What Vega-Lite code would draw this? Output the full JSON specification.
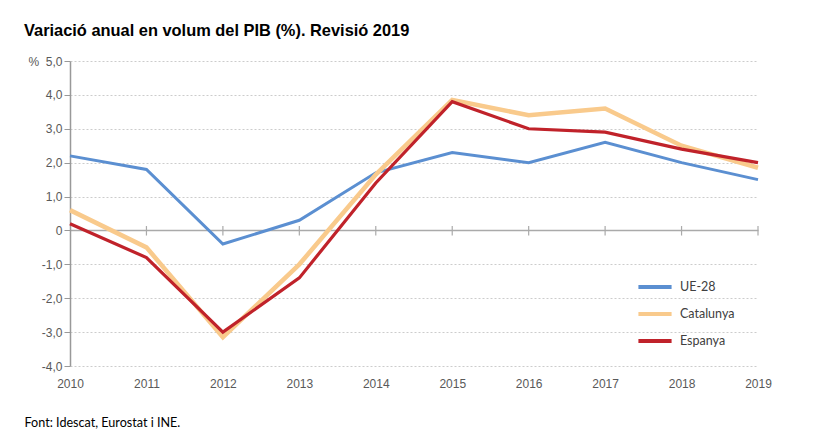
{
  "$schema": "https://vega.github.io/schema/vega-lite/v6.json",
  "autosize": {"type": "none"},
  "width": 688,
  "height": 305,
  "padding": {"left": 70, "top": 61, "right": 68, "bottom": 64},
  "background": "white",
  "config": {
    "view": {"stroke": null},
    "axisY": {
      "labelOverlap": false,
      "labelFont": "Liberation Sans", "labelFontSize": 12, "labelColor": "#595959",
      "labelPadding": 2, "tickSize": 6, "tickColor": "#999999",
      "domainColor": "#999999", "domainWidth": 1.5,
      "grid": true, "gridWidth": 1,
      "titleAngle": 0, "titleX": -42, "titleY": 0,
      "titleAlign": "left", "titleBaseline": "middle",
      "titleFont": "Liberation Sans", "titleFontSize": 12, "titleFontWeight": "normal",
      "titleColor": "#595959"
    },
    "axisX": {
      "labelAngle": 0, "domain": false, "ticks": false, "grid": false,
      "labelPadding": 12, "labelFont": "Liberation Sans", "labelFontSize": 12,
      "labelColor": "#595959",
      "titleX": -46, "titleY": 56, "titleAlign": "left", "titleBaseline": "middle",
      "titleFont": "Lato", "titleFontSize": 12.6, "titleFontWeight": "normal", "titleColor": "#000000"
    }
  },
  "title": {
    "text": "Variació anual en volum del PIB (%). Revisió 2019",
    "anchor": "start",
    "frame": "group",
    "dx": -46,
    "offset": 16,
    "font": "Liberation Sans",
    "fontSize": 16.4,
    "fontWeight": "bold",
    "color": "#000000"
  },
  "datasets": {
    "pib": [
      {"any": "2010", "serie": "UE-28", "valor": 2.2},
      {"any": "2011", "serie": "UE-28", "valor": 1.8},
      {"any": "2012", "serie": "UE-28", "valor": -0.4},
      {"any": "2013", "serie": "UE-28", "valor": 0.3},
      {"any": "2014", "serie": "UE-28", "valor": 1.7},
      {"any": "2015", "serie": "UE-28", "valor": 2.3},
      {"any": "2016", "serie": "UE-28", "valor": 2.0},
      {"any": "2017", "serie": "UE-28", "valor": 2.6},
      {"any": "2018", "serie": "UE-28", "valor": 2.0},
      {"any": "2019", "serie": "UE-28", "valor": 1.5},
      {"any": "2010", "serie": "Catalunya", "valor": 0.6},
      {"any": "2011", "serie": "Catalunya", "valor": -0.5},
      {"any": "2012", "serie": "Catalunya", "valor": -3.15},
      {"any": "2013", "serie": "Catalunya", "valor": -1.0},
      {"any": "2014", "serie": "Catalunya", "valor": 1.65},
      {"any": "2015", "serie": "Catalunya", "valor": 3.85},
      {"any": "2016", "serie": "Catalunya", "valor": 3.4},
      {"any": "2017", "serie": "Catalunya", "valor": 3.6},
      {"any": "2018", "serie": "Catalunya", "valor": 2.5},
      {"any": "2019", "serie": "Catalunya", "valor": 1.85},
      {"any": "2010", "serie": "Espanya", "valor": 0.2},
      {"any": "2011", "serie": "Espanya", "valor": -0.8},
      {"any": "2012", "serie": "Espanya", "valor": -3.0},
      {"any": "2013", "serie": "Espanya", "valor": -1.4},
      {"any": "2014", "serie": "Espanya", "valor": 1.4},
      {"any": "2015", "serie": "Espanya", "valor": 3.8},
      {"any": "2016", "serie": "Espanya", "valor": 3.0},
      {"any": "2017", "serie": "Espanya", "valor": 2.9},
      {"any": "2018", "serie": "Espanya", "valor": 2.4},
      {"any": "2019", "serie": "Espanya", "valor": 2.0}
    ],
    "ticks": [
      {"any": "2011", "valor": 0.13, "baix": -0.15},
      {"any": "2012", "valor": 0.13, "baix": -0.15},
      {"any": "2013", "valor": 0.13, "baix": -0.15},
      {"any": "2014", "valor": 0.13, "baix": -0.15},
      {"any": "2015", "valor": 0.13, "baix": -0.15},
      {"any": "2016", "valor": 0.13, "baix": -0.15},
      {"any": "2017", "valor": 0.13, "baix": -0.15},
      {"any": "2018", "valor": 0.13, "baix": -0.15},
      {"any": "2019", "valor": 0.13, "baix": -0.15}
    ]
  },
  "encoding": {
    "x": {
      "field": "any", "type": "ordinal",
      "scale": {"type": "point", "padding": 0},
      "axis": {"title": "Font: Idescat, Eurostat i INE."}
    },
    "y": {
      "field": "valor", "type": "quantitative",
      "scale": {"domain": [-4, 5], "nice": false},
      "axis": {
        "values": [-4, -3, -2, -1, 0, 1, 2, 3, 4, 5],
        "labelExpr": "datum.value == 0 ? '0' : replace(replace(format(datum.value, '.1f'), '.', ','), '\u2212', '-')",
        "gridColor": {"condition": {"test": "datum.value === 0", "value": "#aaaaaa"}, "value": "#cccccc"},
        "gridDash": {"condition": {"test": "datum.value === 0", "value": []}, "value": [2, 2]},
        "gridWidth": {"condition": {"test": "datum.value === 0", "value": 1.5}, "value": 1},
        "title": "%"
      }
    }
  },
  "layer": [
    {
      "data": {"name": "ticks"},
      "mark": {"type": "rule", "color": "#aaaaaa", "strokeWidth": 1.2},
      "encoding": {
        "y2": {"field": "baix"}
      }
    },
    {
      "data": {"name": "pib"},
      "transform": [{"filter": "datum.serie == 'UE-28'"}],
      "mark": {"type": "line", "strokeWidth": 3},
      "encoding": {
        "color": {
          "field": "serie", "type": "nominal",
          "scale": {"domain": ["UE-28", "Catalunya", "Espanya"], "range": ["#5b8fd1", "#f9ca8c", "#c0222a"]},
          "legend": {
            "title": null, "orient": "none", "legendX": 566, "legendY": 218,
            "symbolType": "stroke", "symbolSize": 1100, "symbolStrokeWidth": 4,
            "clipHeight": 16, "rowPadding": 11,
            "labelFont": "Lato", "labelFontSize": 12.5, "labelColor": "#404040",
            "labelOffset": 6
          }
        }
      }
    },
    {
      "data": {"name": "pib"},
      "transform": [{"filter": "datum.serie == 'Catalunya'"}],
      "mark": {"type": "line", "strokeWidth": 4.5},
      "encoding": {
        "color": {"field": "serie", "type": "nominal"}
      }
    },
    {
      "data": {"name": "pib"},
      "transform": [{"filter": "datum.serie == 'Espanya'"}],
      "mark": {"type": "line", "strokeWidth": 3.2},
      "encoding": {
        "color": {"field": "serie", "type": "nominal"}
      }
    }
  ]
}
